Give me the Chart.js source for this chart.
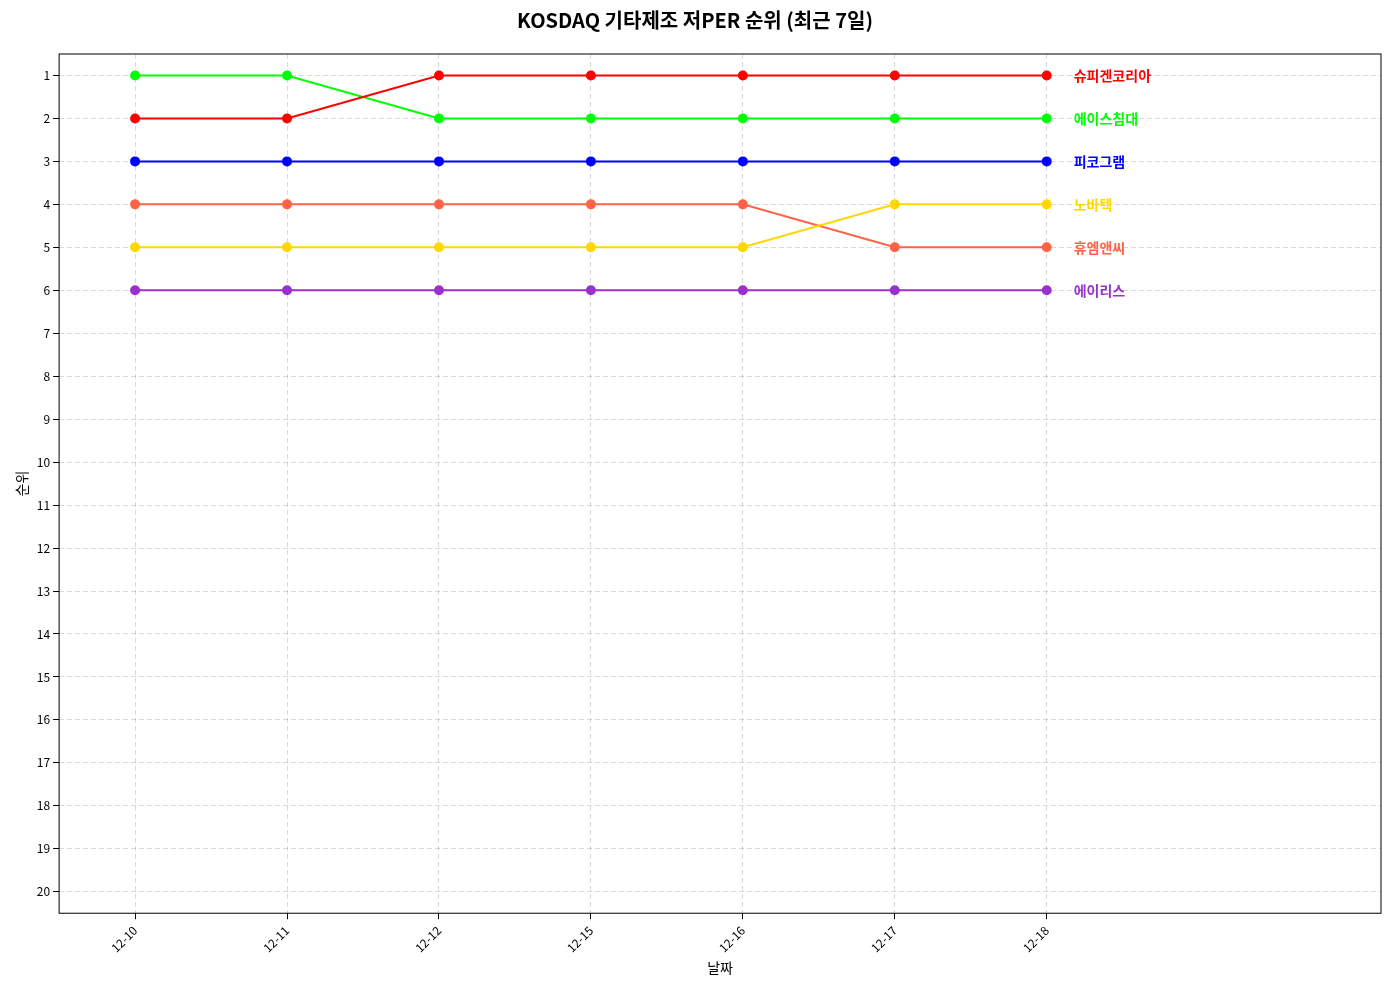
<!DOCTYPE html>
<html><head><meta charset="utf-8">
<script src="https://cdn.jsdelivr.net/npm/chart.js@4"></script>
<style>html,body{margin:0;padding:0;background:#fff}#w{width:1389px;height:990px}</style>
</head><body><div id="w"><canvas id="c" width="1389" height="990"></canvas></div>
<script>
const dates = ["12-10","12-11","12-12","12-15","12-16","12-17","12-18"];
const names = ["슈피겐코리아","에이스침대","피코그램","노바텍","휴엠앤씨","에이리스"];
const colors = ["#ff0000","#00ff00","#0000ff","#ffd700","#ff6347","#9932cc"];
const ranks = [
 [2,2,1,1,1,1,1],
 [1,1,2,2,2,2,2],
 [3,3,3,3,3,3,3],
 [5,5,5,5,5,4,4],
 [4,4,4,4,4,5,5],
 [6,6,6,6,6,6,6]
];
const F = "'Noto Sans CJK KR','Noto Sans',sans-serif";
const labelPlugin = {id:'lbl', afterDatasetsDraw(ch){
  const ctx=ch.ctx, xs=ch.scales.x, ys=ch.scales.y;
  ctx.save(); ctx.font="bold 14px "+F; ctx.textBaseline='middle';
  names.forEach((n,i)=>{ctx.fillStyle=colors[i];
    ctx.fillText(n, xs.getPixelForValue(dates.length-1)+27, ys.getPixelForValue(ranks[i][dates.length-1]));});
  ctx.restore();
}};
new Chart(document.getElementById('c'),{
 type:'line',
 data:{datasets:names.map((n,i)=>({label:n,data:ranks[i].map((v,j)=>({x:j,y:v})),
   borderColor:colors[i],backgroundColor:colors[i],borderWidth:2,pointRadius:4,pointHoverRadius:4,tension:0}))},
 options:{responsive:false,animation:false,
  layout:{padding:{left:9,right:8,top:0,bottom:10}},
  plugins:{legend:{display:false},tooltip:{enabled:false},
   title:{display:true,text:'KOSDAQ 기타제조 저PER 순위 (최근 7일)',font:{family:F,size:20,weight:'bold'},color:'#000',padding:{top:8,bottom:22}}},
  scales:{
   x:{type:'linear',min:-0.5,max:8.2,
     afterBuildTicks(a){a.ticks=dates.map((d,i)=>({value:i}));},
     ticks:{callback:v=>dates[v],maxRotation:45,minRotation:45,autoSkip:false,color:'#000',font:{family:F,size:12},padding:4},
     grid:{color:'rgba(0,0,0,0.15)',tickLength:6,tickColor:'#000',tickBorderDash:[]},
     border:{display:false,dash:[5,3]},
     title:{display:true,text:'날짜',color:'#000',font:{family:F,size:14},padding:{top:0}}},
   y:{reverse:true,min:0.5,max:20.5,
     afterBuildTicks(a){a.ticks=Array.from({length:20},(_,i)=>({value:i+1}));},
     ticks:{color:'#000',font:{family:F,size:12}},
     grid:{color:'rgba(0,0,0,0.15)',tickLength:6,tickColor:'#000',tickBorderDash:[]},
     border:{display:false,dash:[5,3]},
     title:{display:true,text:'순위',color:'#000',font:{family:F,size:14}}}
  }},
 plugins:[labelPlugin,{id:'box',afterDraw(ch){const a=ch.chartArea,c=ch.ctx;c.save();c.strokeStyle='#000';c.lineWidth=1;c.strokeRect(a.left,a.top,a.right-a.left,a.bottom-a.top);c.restore();}}]
});
</script></body></html>
